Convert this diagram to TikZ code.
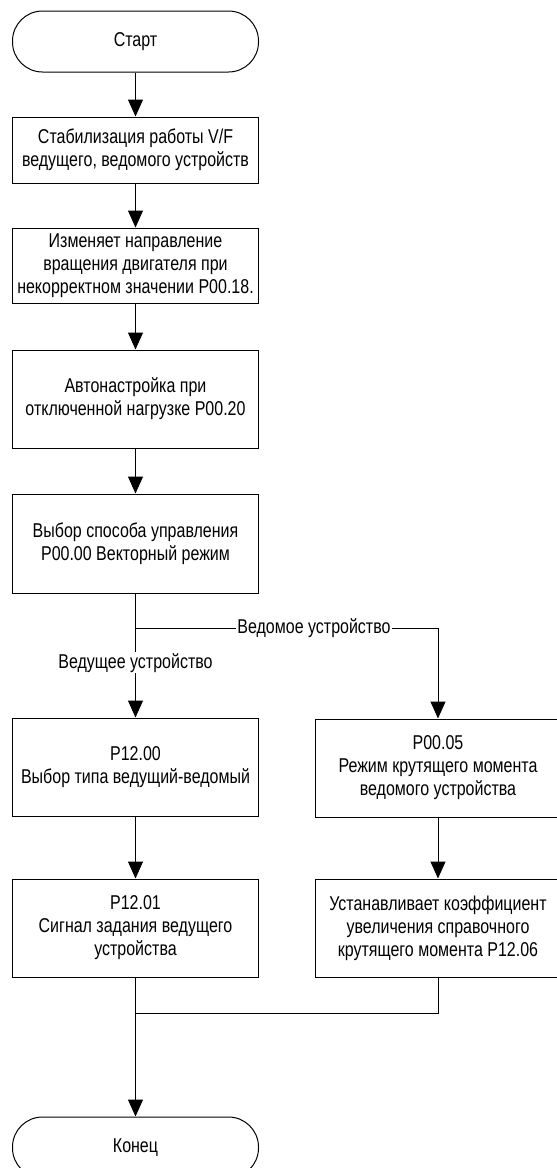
\documentclass[tikz,border=0pt]{standalone}
\usepackage{fontspec}
\setmainfont{Liberation Sans}[FakeStretch=0.8]
\usetikzlibrary{arrows.meta}
\begin{document}
\begin{tikzpicture}[x=1pt,y=-1pt,
  base/.style={draw=black,line width=1pt,align=center,font=\fontsize{20}{23}\selectfont,inner sep=2pt},
  procbox/.style={base,rectangle,minimum width=246pt},
  term/.style={base,rectangle,rounded corners=30pt,minimum width=246pt,minimum height=61pt},
  conn/.style={draw=black,line width=1pt},
  arr/.style={conn,-{Triangle[width=15pt,length=17pt]}},
  lbl/.style={fill=white,inner sep=1pt,font=\fontsize{20}{23}\selectfont}]
\useasboundingbox (0,0) rectangle (557,1168);
\node[term] (start) at (135.5,41.5) {Старт};
\node[procbox,minimum height=66pt] (b1) at (135.5,150) {Стабилизация работы V/F\\ведущего, ведомого устройств};
\node[procbox,minimum height=75pt] (b2) at (135.5,265.5) {Изменяет направление\\вращения двигателя при\\некорректном значении P00.18.};
\node[procbox,minimum height=98pt] (b3) at (135.5,399) {Автонастройка при\\отключенной нагрузке P00.20};
\node[procbox,minimum height=99pt] (b4) at (135.5,543.5) {Выбор способа управления\\P00.00 Векторный режим};
\node[procbox,minimum height=98pt] (b5) at (135.5,767) {P12.00\\Выбор типа ведущий-ведомый};
\node[procbox,minimum height=98pt] (b6) at (135.5,928) {P12.01\\Сигнал задания ведущего\\устройства};
\node[procbox,minimum height=98pt] (b7) at (438,768) {P00.05\\Режим крутящего момента\\ведомого устройства};
\node[procbox,minimum height=98pt] (b8) at (438,928) {Устанавливает коэффициент\\увеличения справочного\\крутящего момента P12.06};
\node[term] (end) at (135.5,1147.5) {Конец};
\coordinate (br) at (135.5,628);
\coordinate (brR) at (438,628);
\coordinate (mg) at (135.5,1013);
\draw[arr] (start) -- (b1);
\draw[arr] (b1) -- (b2);
\draw[arr] (b2) -- (b3);
\draw[arr] (b3) -- (b4);
\draw[conn] (b4) -- (br) -- node[lbl,pos=0.59]{Ведомое устройство} (brR);
\draw[arr] (brR) -- (b7);
\draw[arr] (br) -- node[lbl,pos=0.39]{Ведущее устройство} (b5);
\draw[arr] (b5) -- (b6);
\draw[arr] (b7) -- (b8);
\draw[conn] (b8) -- (b8.south |- mg) -- (mg);
\draw[arr] (b6) -- (end);
\end{tikzpicture}
\end{document}
